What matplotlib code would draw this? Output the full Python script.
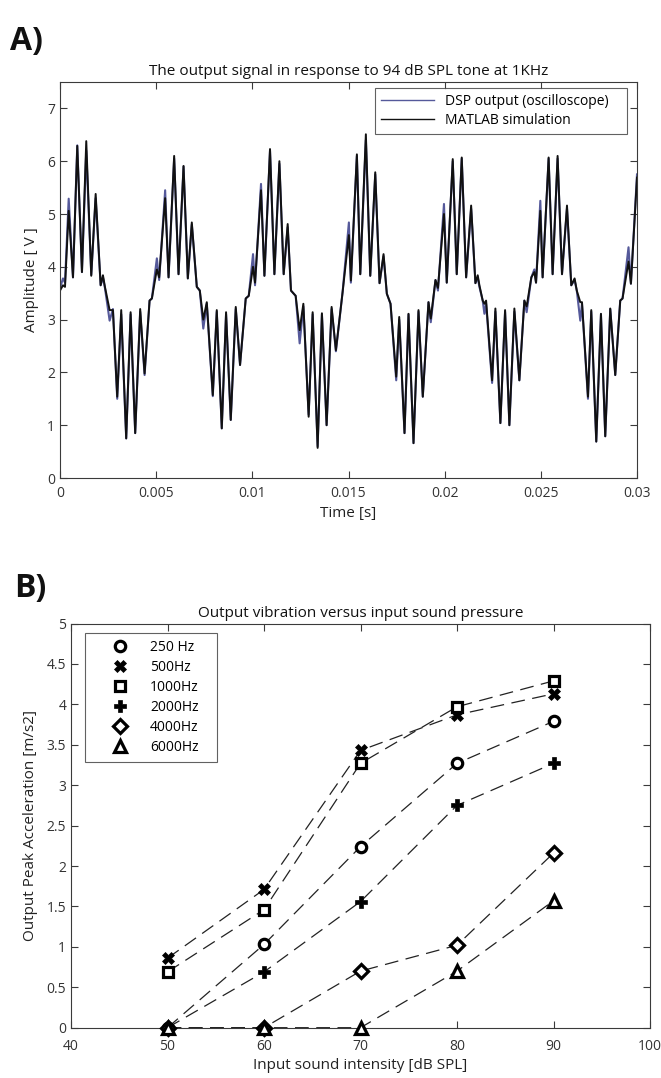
import matplotlib
matplotlib.use("Agg")
import matplotlib.pyplot as plt
from matplotlib.lines import Line2D

plt.rcParams['font.family'] = ['Open Sans', 'DejaVu Sans']

# ---------------- Panel A data: extrema of waveform (time in ms, amplitude in V)
t_ms = [0.000, 0.156, 0.260, 0.452, 0.675, 0.898, 1.142, 1.365, 1.625, 1.854, 2.113, 2.233, 2.336, 2.580, 2.752, 2.975, 3.183, 3.442, 3.671, 3.910, 4.169, 4.398, 4.657, 4.777, 5.036, 5.156,
        5.467, 5.644, 5.935, 6.163, 6.423, 6.646, 6.853, 7.113, 7.269, 7.450, 7.632, 7.944, 8.151, 8.411, 8.634, 8.878, 9.138, 9.361, 9.657, 9.813, 10.036, 10.140,
        10.451, 10.628, 10.919, 11.147, 11.407, 11.630, 11.838, 12.009, 12.253, 12.460, 12.653, 12.928, 13.136, 13.395, 13.618, 13.862, 14.122, 14.345, 14.693, 15.020, 15.124,
        15.436, 15.612, 15.903, 16.131, 16.391, 16.614, 16.822, 16.993, 17.185, 17.481, 17.637, 17.912, 18.120, 18.380, 18.639, 18.863, 19.159, 19.278, 19.522, 19.652, 19.964,
        20.109, 20.420, 20.628, 20.888, 21.116, 21.376, 21.599, 21.718, 21.806, 21.978, 22.066, 22.154, 22.466, 22.637, 22.897, 23.141, 23.364, 23.624, 23.883, 24.143, 24.263, 24.507, 24.662, 24.750, 24.974,
        25.093, 25.405, 25.613, 25.872, 26.101, 26.360, 26.583, 26.755, 26.869, 27.051, 27.140, 27.451, 27.622, 27.882, 28.126, 28.349, 28.609, 28.869, 29.128, 29.248, 29.559, 29.684, 30.000]

v_sim = [3.55, 3.65, 3.62, 5.06, 3.80, 6.29, 3.90, 6.38, 3.83, 5.38, 3.65, 3.84, 3.62, 3.18, 3.18, 1.54, 3.18, 0.75, 3.14, 0.85, 3.20, 1.98, 3.36, 3.40, 3.95, 3.80,
         5.30, 3.80, 6.10, 3.86, 5.91, 3.78, 4.84, 3.62, 3.55, 3.00, 3.33, 1.57, 3.18, 0.94, 3.14, 1.10, 3.24, 2.14, 3.40, 3.45, 4.00, 3.70,
         5.45, 3.83, 6.23, 3.86, 6.00, 3.86, 4.81, 3.55, 3.45, 2.80, 3.30, 1.16, 3.14, 0.57, 3.12, 1.00, 3.24, 2.42, 3.52, 4.60, 3.74,
         6.13, 3.86, 6.51, 3.83, 5.79, 3.69, 4.24, 3.49, 3.30, 1.92, 3.05, 0.85, 3.11, 0.66, 3.18, 1.54, 3.33, 3.02, 3.75, 3.60, 5.00,
         3.70, 6.04, 3.86, 6.07, 3.80, 5.16, 3.69, 3.84, 3.65, 3.36, 3.30, 3.36, 1.85, 3.21, 1.04, 3.18, 1.00, 3.21, 1.85, 3.36, 3.25, 3.80, 3.90, 3.70, 5.06,
         3.80, 6.07, 3.86, 6.10, 3.86, 5.16, 3.65, 3.78, 3.55, 3.33, 3.33, 1.54, 3.18, 0.69, 3.11, 0.79, 3.21, 1.95, 3.36, 3.40, 4.10, 3.68, 5.69]

v_dsp = [3.60, 3.78, 3.70, 5.29, 3.80, 6.30, 3.90, 6.20, 3.85, 5.30, 3.65, 3.80, 3.60, 2.98, 3.20, 1.50, 3.10, 0.75, 3.10, 0.85, 3.15, 1.95, 3.36, 3.40, 4.16, 3.75,
         5.45, 3.80, 6.05, 3.86, 5.90, 3.78, 4.80, 3.62, 3.55, 2.83, 3.30, 1.55, 3.15, 0.94, 3.10, 1.10, 3.20, 2.14, 3.40, 3.45, 4.24, 3.65,
         5.57, 3.83, 6.20, 3.86, 5.95, 3.86, 4.75, 3.55, 3.45, 2.55, 3.25, 1.20, 3.10, 0.60, 3.10, 1.00, 3.20, 2.40, 3.52, 4.84, 3.70,
         6.10, 3.86, 6.40, 3.83, 5.75, 3.69, 4.20, 3.49, 3.30, 1.85, 3.00, 0.85, 3.10, 0.66, 3.15, 1.54, 3.33, 2.95, 3.75, 3.55, 5.19,
         3.70, 6.00, 3.86, 6.05, 3.80, 5.10, 3.69, 3.80, 3.62, 3.36, 3.11, 3.30, 1.80, 3.15, 1.04, 3.15, 1.00, 3.15, 1.85, 3.36, 3.14, 3.80, 3.95, 3.70, 5.25,
         3.80, 6.05, 3.86, 6.05, 3.86, 5.10, 3.65, 3.75, 3.55, 2.98, 3.30, 1.50, 3.15, 0.69, 3.10, 0.79, 3.20, 1.95, 3.36, 3.40, 4.37, 3.68, 5.75]

series_a_labels = ["DSP output (oscilloscope)", "MATLAB simulation"]
xticks_a = [0, 0.005, 0.01, 0.015, 0.02, 0.025, 0.03]
xticklabels_a = ["0", "0.005", "0.01", "0.015", "0.02", "0.025", "0.03"]

# ---------------- Panel B data
spl_db = [50, 60, 70, 80, 90]
freq_labels = ["250 Hz", "500Hz", "1000Hz", "2000Hz", "4000Hz", "6000Hz"]
acc_250 = [0.00, 1.03, 2.24, 3.27, 3.79]
acc_500 = [0.86, 1.71, 3.43, 3.87, 4.13]
acc_1000 = [0.69, 1.46, 3.27, 3.97, 4.29]
acc_2000 = [0.00, 0.69, 1.56, 2.75, 3.27]
acc_4000 = [0.00, 0.00, 0.70, 1.02, 2.16]
acc_6000 = [0.00, 0.00, 0.00, 0.70, 1.57]
yticks_b = [0, 0.5, 1, 1.5, 2, 2.5, 3, 3.5, 4, 4.5, 5]
yticklabels_b = ["0", "0.5", "1", "1.5", "2", "2.5", "3", "3.5", "4", "4.5", "5"]

W, H = 661, 1078
fig = plt.figure(figsize=(W / 100, H / 100), dpi=100)

spine_c = '#3a3a3a'
tick_c = '#333333'


def style(ax):
    for s in ax.spines.values():
        s.set_color(spine_c)
        s.set_linewidth(0.8)
    ax.tick_params(direction='in', top=True, right=True, length=5, width=0.8,
                   colors=spine_c, labelcolor=tick_c, labelsize=10)


# Panel A
axA = fig.add_axes([60 / W, 1 - 478 / H, 577 / W, 396 / H])
t_s = [t / 1000.0 for t in t_ms]
axA.plot(t_s, v_dsp, color='#55599a', lw=1.5, solid_joinstyle='round', label=series_a_labels[0])
axA.plot(t_s, v_sim, color='#111111', lw=1.4, solid_joinstyle='round', label=series_a_labels[1])
axA.set_xlim(0, 0.03)
axA.set_ylim(0, 7.5)
axA.set_xticks(xticks_a)
axA.set_xticklabels(xticklabels_a)
axA.set_yticks(range(0, 8))
style(axA)
axA.tick_params(axis='x', pad=6)
axA.set_title("The output signal in response to 94 dB SPL tone at 1KHz", fontsize=11, color='#111111', pad=5)
axA.set_xlabel("Time [s]", fontsize=11, color='#222222', labelpad=3)
axA.set_ylabel("Amplitude [ V ]", fontsize=11, color='#222222', labelpad=6)
legA = axA.legend(loc='upper left', bbox_to_anchor=(0.546, 0.0, 0.437, 0.985), mode='expand',
                  borderaxespad=0.0, fontsize=10, frameon=True, fancybox=False,
                  handlelength=3.8, labelspacing=0.25, borderpad=0.45)
for ln in legA.get_lines():
    ln.set_linewidth(1.0)
legA.get_frame().set_edgecolor(spine_c)
legA.get_frame().set_linewidth(0.8)

fig.text(10 / W, 1 - 50 / H, "A)", fontsize=23, fontweight='bold', color='#111111')
fig.text(14 / W, 1 - 597 / H, "B)", fontsize=23, fontweight='bold', color='#111111')

# Panel B
axB = fig.add_axes([71 / W, 1 - 1027.7 / H, 579 / W, 404.2 / H])
series_b = [acc_250, acc_500, acc_1000, acc_2000, acc_4000, acc_6000]
markers = ['o', 'X', 's', 'P', 'D', '^']
msizes = [7.5, 8, 7.5, 8, 7.5, 9]
handles = []
for vals, mk, ms, lab in zip(series_b, markers, msizes, freq_labels):
    filled = mk in ('X', 'P')
    axB.plot(spl_db, vals, linestyle=(0, (11, 6)), color='#222222', lw=0.9, zorder=2)
    axB.plot(spl_db, vals, linestyle='none', marker=mk, markersize=ms,
             markerfacecolor='black' if filled else 'white',
             markeredgecolor='black', markeredgewidth=0.5 if filled else 2.3,
             zorder=3, clip_on=False)
    handles.append(Line2D([], [], linestyle='none', marker=mk, markersize=ms,
                          markerfacecolor='black' if filled else 'white',
                          markeredgecolor='black', markeredgewidth=0.5 if filled else 2.3,
                          label=lab))
axB.set_xlim(40, 100)
axB.set_ylim(0, 5)
axB.set_xticks(range(40, 101, 10))
axB.set_yticks(yticks_b)
axB.set_yticklabels(yticklabels_b)
style(axB)
axB.tick_params(axis='x', pad=8)
axB.set_title("Output vibration versus input sound pressure", fontsize=11, color='#111111', pad=5)
axB.set_xlabel("Input sound intensity [dB SPL]", fontsize=11, color='#222222', labelpad=3)
axB.set_ylabel("Output Peak Acceleration [m/s2]", fontsize=11, color='#222222', labelpad=6)
legB = axB.legend(handles=handles, loc='upper left', bbox_to_anchor=(0.024, 0.0, 0.228, 0.9765),
                  mode='expand', borderaxespad=0.0, fontsize=10, frameon=True, fancybox=False,
                  handlelength=4.0, labelspacing=0.36, handletextpad=0.2, borderpad=0.5)
legB.get_frame().set_edgecolor(spine_c)
legB.get_frame().set_linewidth(0.8)

fig.savefig("out.png", dpi=100)
